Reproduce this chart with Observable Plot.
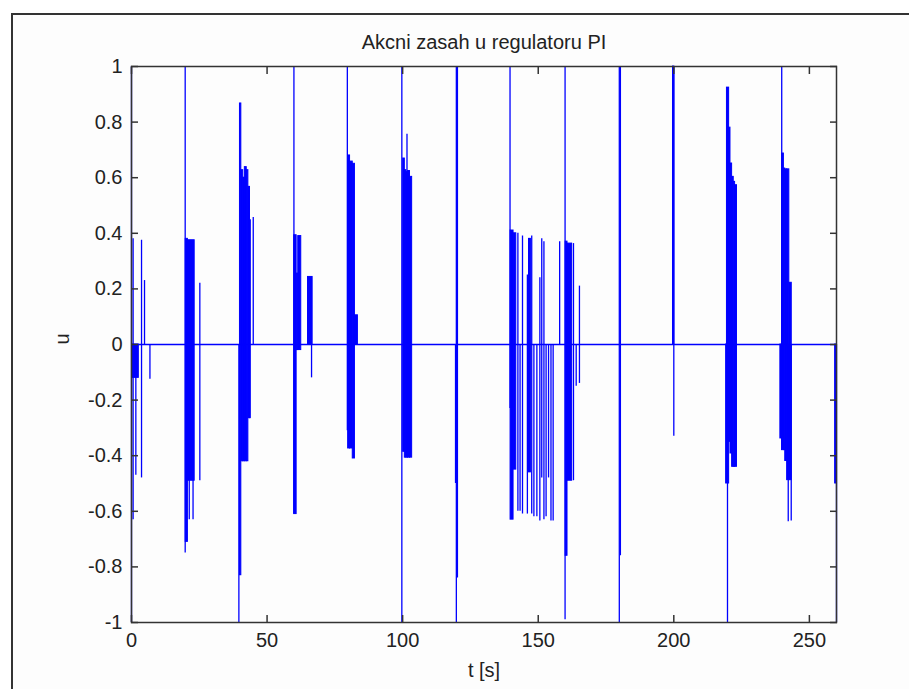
<!DOCTYPE html>
<html><head><meta charset="utf-8">
<script src="https://cdn.jsdelivr.net/npm/d3@7"></script>
<script src="https://cdn.jsdelivr.net/npm/@observablehq/plot@0.6"></script>
<style>
html,body{margin:0;padding:0;background:#fff;}
#wrap{position:relative;width:909px;height:689px;overflow:hidden;background:#fff}
#border{position:absolute;left:11px;top:13px;right:-10px;bottom:-10px;border-top:2px solid #333;border-left:2px solid #333;background:#fdfdfd;}
#chart{position:absolute;left:0;top:0}
</style></head><body>
<div id="wrap"><div id="border"></div><div id="chart"></div></div>
<script>
const title = "Akcni zasah u regulatoru PI";
const xLabel = "t [s]";
const yLabel = "u";
const xTicks = [0, 50, 100, 150, 200, 250];
const xTickLabels = ["0", "50", "100", "150", "200", "250"];
const yTicks = [-1, -0.8, -0.6, -0.4, -0.2, 0, 0.2, 0.4, 0.6, 0.8, 1];
const yTickLabels = ["-1", "-0.8", "-0.6", "-0.4", "-0.2", "0", "0.2", "0.4", "0.6", "0.8", "1"];

// single switching strokes of u(t): time, upper value, lower value
const spikeT  = [0, 0.6, 1.6, 3.7, 4.8, 6.8,
  19.8, 21.3, 22.7, 25.2,
  39.6, 44.9,
  59.9, 66.4,
  79.6,
  99.7, 101.6,
  119.5, 119.8, 120.2,
  139.6, 142.5, 143.3, 144.2, 146.0, 147.6, 148.4, 149.5, 150.6, 151.3, 152.1, 152.9, 153.8, 154.7, 155.5, 157.9, 159.9, 163.0, 164.0, 165.2,
  179.9, 180.3,
  200.0,
  219.8,
  239.8, 242.2, 243.3,
  260];
const spikeHi = [1, 0.38, 0, 0.375, 0.23, 0,
  1, 0, 0, 0.22,
  0, 0.457,
  1, 0,
  1,
  1, 0.756,
  0, 1, 1,
  1, 0.40, 0, 0.39, 0.25, 0.39, 0, 0, 0.24, 0.38, 0.37, 0, 0, 0, 0, 0.37, 1, 0.363, 0, 0.21,
  1, 1,
  1,
  0.924,
  1, 0, 0,
  0];
const spikeLo = [-1, -0.63, -0.47, -0.48, 0, -0.125,
  -0.75, -0.63, -0.63, -0.49,
  -1, 0,
  -0.61, -0.12,
  -0.31,
  -1, 0,
  -0.5, -1, -0.84,
  -0.23, -0.60, -0.60, -0.61, -0.61, -0.61, -0.62, -0.62, -0.635, -0.48, -0.63, -0.62, -0.48, -0.635, -0.635, 0, -0.99, -0.49, -0.15, -0.14,
  -1, -0.76,
  -0.33,
  -1,
  -0.338, -0.638, -0.635,
  -1];

// dense switching intervals: start time, end time, upper envelope, lower envelope
const blockT0 = [0.2, 20.0, 20.8, 40.0, 40.5, 41.2, 41.8, 42.5, 43.1, 43.7,
  60.0, 60.9, 61.5, 65.1, 79.9, 80.6, 81.6, 82.4,
  100.2, 100.8, 101.4, 102.0, 102.7,
  139.8, 140.9, 146.6, 160.1, 160.8, 199.7,
  219.3, 219.6, 220.4, 220.9, 221.5, 222.1, 222.6,
  239.3, 239.9, 240.6, 241.1, 241.8, 242.6, 259.5];
const blockT1 = [2.7, 20.8, 23.3, 40.5, 41.2, 41.8, 42.5, 43.1, 43.7, 44.0,
  60.9, 61.5, 62.6, 66.8, 80.6, 81.6, 82.4, 83.5,
  100.8, 101.4, 102.0, 102.7, 103.5,
  140.9, 141.9, 147.3, 160.8, 162.5, 200.2,
  220.4, 220.4, 220.9, 221.5, 222.1, 222.6, 223.3,
  239.9, 240.6, 241.1, 241.8, 242.6, 243.5, 260];
const blockHi = [0, 0.38, 0.375, 0.867, 0.627, 0.60, 0.638, 0.627, 0.567, 0.447,
  0.393, 0.255, 0.39, 0.243, 0.68, 0.658, 0.65, 0.105,
  0.669, 0.627, 0.62, 0.624, 0.603,
  0.41, 0.40, 0.38, 0.37, 0.363, 1,
  0, 0.924, 0.78, 0.651, 0.603, 0.585, 0.573,
  0, 0.687, 0.633, 0.63, 0.63, 0.222, 0];
const blockLo = [-0.12, -0.71, -0.49, -0.83, -0.42, -0.42, -0.42, -0.42, -0.265, -0.265,
  -0.61, -0.02, -0.02, 0, -0.374, -0.374, -0.41, 0,
  -0.386, -0.407, -0.407, -0.407, -0.407,
  -0.63, -0.45, -0.46, -0.76, -0.49, 0,
  -0.5, 0, -0.35, -0.392, -0.44, -0.44, -0.44,
  -0.338, -0.38, -0.38, -0.419, -0.488, -0.488, -0.5];

const BLUE = "#0000ff";
const INK = "#333";
const spikes = spikeT.map((t, i) => ({t, hi: spikeHi[i], lo: spikeLo[i]}));
const blocks = blockT0.map((t0, i) => ({t0, t1: blockT1[i], hi: blockHi[i], lo: blockLo[i]}));
const yFmt = d => yTickLabels[yTicks.indexOf(d)];
const xFmt = d => xTickLabels[xTicks.indexOf(d)];

const chart = Plot.plot({
  width: 909, height: 689,
  marginLeft: 131, marginRight: 73, marginTop: 66, marginBottom: 67,
  style: {fontFamily: "'Liberation Sans', Arial, sans-serif", fontSize: "20px", background: "transparent", color: "#222"},
  x: {domain: [0, 260], label: null},
  y: {domain: [-1, 1], label: null},
  marks: [
    Plot.ruleY([0], {stroke: BLUE, strokeWidth: 1.3}),
    Plot.rect(blocks, {x1: "t0", x2: "t1", y1: "lo", y2: "hi", fill: BLUE, stroke: BLUE, strokeWidth: 1}),
    Plot.ruleX(spikes, {x: "t", y1: "lo", y2: "hi", stroke: BLUE, strokeWidth: 1.3}),
    Plot.frame({stroke: INK, strokeWidth: 1.5}),
    Plot.axisX(xTicks, {anchor: "bottom", tickSize: 0, tickPadding: 10, tickFormat: xFmt, label: null, fill: "#222"}),
    Plot.axisX(xTicks, {anchor: "bottom", tickSize: -7, fill: "none", stroke: INK, strokeWidth: 1.5, label: null}),
    Plot.axisX(xTicks, {anchor: "top", tickSize: -7, fill: "none", stroke: INK, strokeWidth: 1.5, label: null}),
    Plot.axisY(yTicks, {anchor: "left", tickSize: 0, tickPadding: 9, tickFormat: yFmt, label: null, fill: "#222"}),
    Plot.axisY(yTicks, {anchor: "left", tickSize: -7, fill: "none", stroke: INK, strokeWidth: 1.5, label: null}),
    Plot.axisY(yTicks, {anchor: "right", tickSize: -7, fill: "none", stroke: INK, strokeWidth: 1.5, label: null}),
    Plot.text([title], {frameAnchor: "top", lineAnchor: "middle", dy: -24, text: d => d, fill: "#222", fontSize: 20}),
    Plot.text([xLabel], {frameAnchor: "bottom", lineAnchor: "middle", dy: 48, text: d => d, fill: "#222", fontSize: 20}),
    Plot.text([yLabel], {frameAnchor: "left", dx: -69, rotate: -90, text: d => d, fill: "#222", fontSize: 20})
  ]
});
document.getElementById("chart").appendChild(chart);
</script></body></html>
